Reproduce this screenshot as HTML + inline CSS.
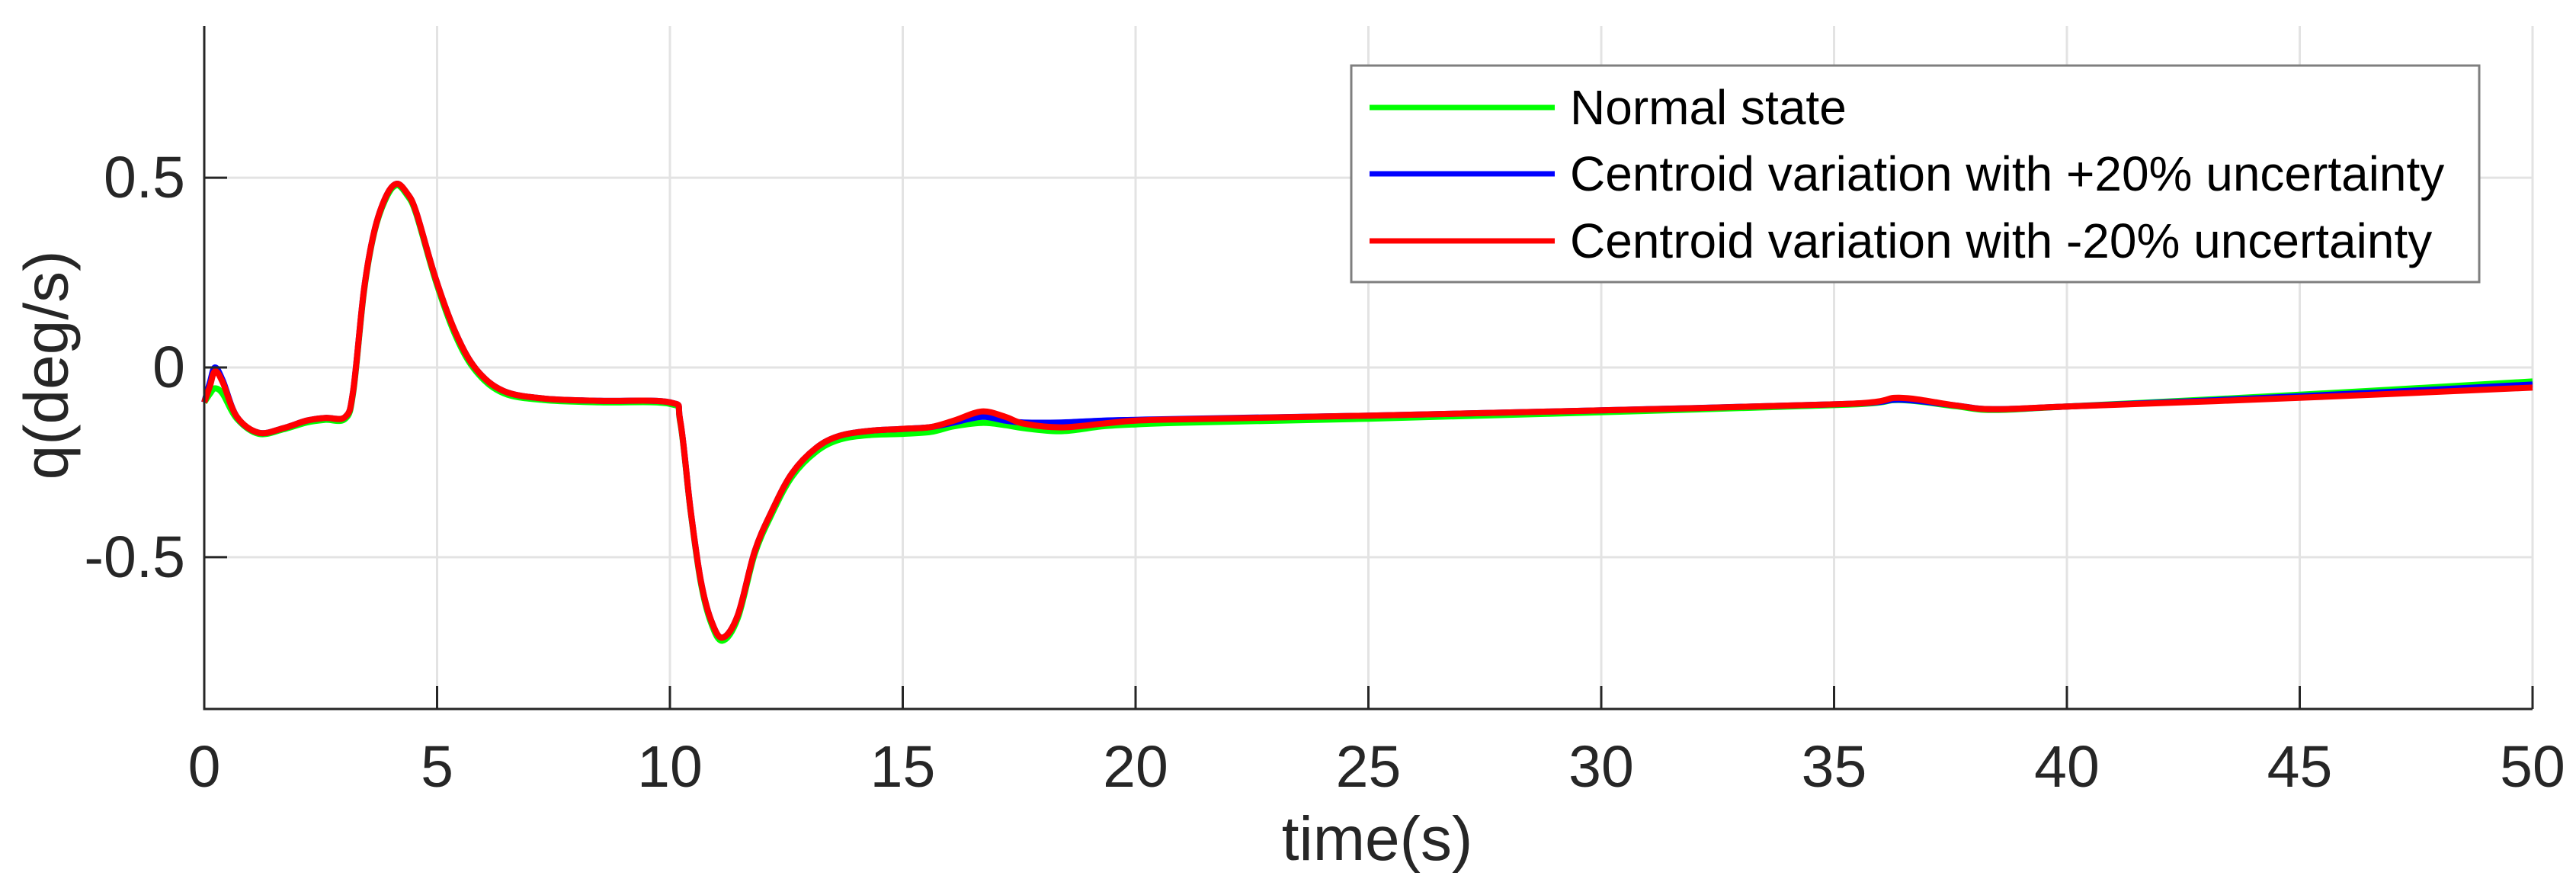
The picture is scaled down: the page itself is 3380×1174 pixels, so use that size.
<!DOCTYPE html>
<html><head><meta charset="utf-8"><style>
html,body{margin:0;padding:0;background:#fff;}
svg{display:block;font-family:"Liberation Sans",Arial,sans-serif;}
</style></head><body>
<svg id="chart" width="3380" height="1174" viewBox="0 0 3380 1174">
<g id="grid"></g>
<g id="series"></g>
<g id="axes"></g>
<text x="61" y="479" font-size="82" fill="#262626" text-anchor="middle" dominant-baseline="central" transform="rotate(-90 61 479)">q(deg/s)</text>
<text x="1807" y="1128" font-size="82" fill="#262626" text-anchor="middle">time(s)</text>
<g>
<rect x="1773" y="86" width="1480" height="284" fill="#fff" stroke="#7f7f7f" stroke-width="3"/>
<line x1="1797" y1="141" x2="2040" y2="141" stroke="#00ff00" stroke-width="7"/>
<text x="2060" y="141" font-size="64" fill="#000" dominant-baseline="central">Normal state</text>
<line x1="1797" y1="228" x2="2040" y2="228" stroke="#0000ff" stroke-width="7"/>
<text x="2060" y="228" font-size="64" fill="#000" dominant-baseline="central">Centroid variation with +20% uncertainty</text>
<line x1="1797" y1="316" x2="2040" y2="316" stroke="#ff0000" stroke-width="7"/>
<text x="2060" y="316" font-size="64" fill="#000" dominant-baseline="central">Centroid variation with -20% uncertainty</text>
</g>
</svg>
<script>
const times = [0,0.12,0.23,0.4,0.7,1.17,1.7,2.2,2.6,3.03,3.2,3.43,3.65,3.9,4.13,4.35,4.55,4.97,5.41,5.85,6.43,7.3,8.5,10,10.22,10.44,10.66,10.88,11.13,11.46,11.82,12.19,12.62,13.14,13.65,14.3,15,15.6,16.1,16.7,17.2,17.6,18.4,19.3,20,21.2,25,30,35.3,36.4,37.6,38.4,40,45,50];
const normalState = [-0.092,-0.07,-0.055,-0.07,-0.135,-0.175,-0.163,-0.145,-0.138,-0.135,-0.065,0.2,0.355,0.445,0.48,0.455,0.405,0.228,0.08,-0.012,-0.068,-0.086,-0.092,-0.096,-0.143,-0.375,-0.565,-0.672,-0.72,-0.66,-0.492,-0.386,-0.288,-0.222,-0.19,-0.178,-0.175,-0.17,-0.155,-0.146,-0.152,-0.16,-0.168,-0.155,-0.15,-0.145,-0.135,-0.118,-0.098,-0.086,-0.102,-0.112,-0.103,-0.072,-0.037];
const plus20 = [-0.092,-0.04,0.0,-0.035,-0.13,-0.172,-0.16,-0.14,-0.133,-0.13,-0.06,0.205,0.358,0.45,0.484,0.46,0.41,0.234,0.088,-0.006,-0.062,-0.082,-0.088,-0.092,-0.139,-0.372,-0.559,-0.665,-0.712,-0.652,-0.485,-0.378,-0.279,-0.212,-0.18,-0.167,-0.162,-0.157,-0.145,-0.13,-0.14,-0.145,-0.145,-0.14,-0.138,-0.135,-0.127,-0.113,-0.096,-0.085,-0.1,-0.11,-0.103,-0.076,-0.045];
const minus20 = [-0.092,-0.05,-0.01,-0.04,-0.13,-0.172,-0.16,-0.14,-0.133,-0.13,-0.06,0.205,0.358,0.45,0.484,0.46,0.41,0.234,0.088,-0.006,-0.062,-0.082,-0.088,-0.092,-0.139,-0.372,-0.559,-0.665,-0.712,-0.652,-0.485,-0.378,-0.279,-0.212,-0.18,-0.167,-0.162,-0.157,-0.14,-0.116,-0.13,-0.148,-0.158,-0.148,-0.14,-0.136,-0.127,-0.113,-0.096,-0.08,-0.1,-0.11,-0.103,-0.08,-0.053];
const xTicks = [0,5,10,15,20,25,30,35,40,45,50];
const yTicks = [-0.5,0,0.5];
const yTickLabels = ["-0.5","0","0.5"];

const NS = "http://www.w3.org/2000/svg";
const L = 268, R = 3323, T = 34, B = 930;
const xMin = 0, xMax = 50, yMin = -0.9, yMax = 0.9;
function sx(v){ return L + (v - xMin) / (xMax - xMin) * (R - L); }
function sy(v){ return B - (v - yMin) / (yMax - yMin) * (B - T); }
function mk(tag, attrs, parent){
  const e = document.createElementNS(NS, tag);
  for (const k in attrs) e.setAttribute(k, attrs[k]);
  parent.appendChild(e);
  return e;
}
const grid = document.getElementById('grid');
const axes = document.getElementById('axes');
const series = document.getElementById('series');

xTicks.forEach(function(t){
  const x = sx(t);
  if (t > xMin) {
    const g = mk('line', {x1:x, y1:T, x2:x, y2:B, stroke:'#e3e3e3', 'stroke-width':3}, grid);
    
    
  }
  const tk = mk('line', {x1:x, y1:B, x2:x, y2:B-30, stroke:'#262626', 'stroke-width':3}, axes);
  
  
  const lb = mk('text', {x:x, y:1032, 'font-size':77, fill:'#262626', 'text-anchor':'middle'}, axes);
  lb.textContent = String(t);
  
  
});
yTicks.forEach(function(v, i){
  const y = sy(v);
  const g = mk('line', {x1:L, y1:y, x2:R, y2:y, stroke:'#e3e3e3', 'stroke-width':3}, grid);
  
  
  const tk = mk('line', {x1:L, y1:y, x2:L+30, y2:y, stroke:'#262626', 'stroke-width':3}, axes);
  
  
  const lb = mk('text', {x:243, y:y, 'font-size':77, fill:'#262626', 'text-anchor':'end', 'dominant-baseline':'central'}, axes);
  lb.textContent = yTickLabels[i];
  
  
});
const xa = mk('line', {x1:L-1.5, y1:B, x2:R, y2:B, stroke:'#262626', 'stroke-width':3}, axes);


const ya = mk('line', {x1:L, y1:T, x2:L, y2:B+1.5, stroke:'#262626', 'stroke-width':3}, axes);



function pathFor(ys){
  const p = times.map(function(t, i){ return [sx(t), sy(ys[i])]; });
  let d = 'M' + p[0][0].toFixed(1) + ' ' + p[0][1].toFixed(1);
  for (let i = 0; i < p.length - 1; i++) {
    const p0 = p[Math.max(0, i-1)], p1 = p[i], p2 = p[i+1], p3 = p[Math.min(p.length-1, i+2)];
    const c1x = p1[0] + (p2[0]-p0[0])/6, c1y = p1[1] + (p2[1]-p0[1])/6;
    const c2x = p2[0] - (p3[0]-p1[0])/6, c2y = p2[1] - (p3[1]-p1[1])/6;
    d += ' C' + c1x.toFixed(1) + ' ' + c1y.toFixed(1) + ' ' + c2x.toFixed(1) + ' ' + c2y.toFixed(1) + ' ' + p2[0].toFixed(1) + ' ' + p2[1].toFixed(1);
  }
  return d;
}
const g1 = mk('path', {d:pathFor(normalState), fill:'none', stroke:'#00ff00', 'stroke-width':8, 'stroke-linejoin':'round'}, series);


const g2 = mk('path', {d:pathFor(plus20), fill:'none', stroke:'#0000ff', 'stroke-width':8, 'stroke-linejoin':'round'}, series);


const g3 = mk('path', {d:pathFor(minus20), fill:'none', stroke:'#ff0000', 'stroke-width':8, 'stroke-linejoin':'round'}, series);


</script>
</body></html>
